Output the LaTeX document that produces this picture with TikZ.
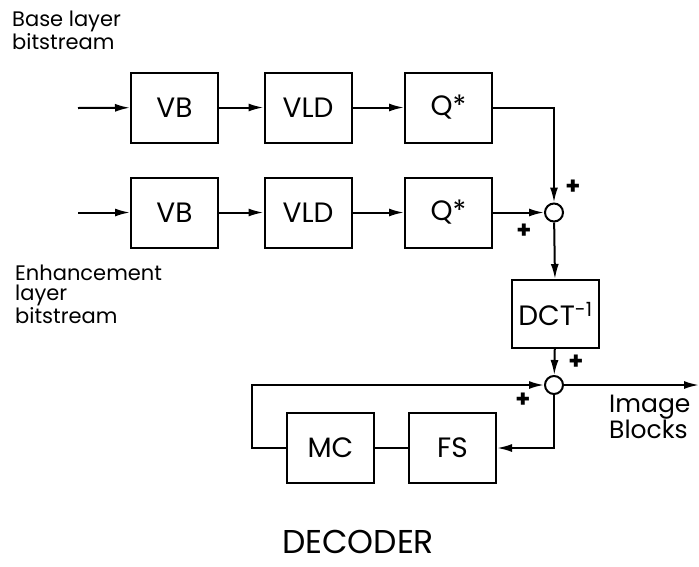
\documentclass[tikz,border=0pt]{standalone}
\usepackage{fontspec}
\setmainfont{Poppins}
\usetikzlibrary{arrows.meta,positioning}

\begin{document}
\begin{tikzpicture}[x=1pt,y=-1pt,
    blk/.style={draw, line width=2pt, minimum width=87pt, minimum height=70pt,
                inner sep=0pt, font=\fontsize{28}{30}\selectfont},
    sumnode/.style={draw, circle, line width=2pt, minimum size=18pt, inner sep=0pt},
    conn/.style={line width=2pt, -{Latex[length=15pt,width=8pt]}},
    wire/.style={line width=2pt},
    lbl/.style={anchor=north west, inner sep=0pt, align=left,
                font=\fontsize{21}{20}\selectfont},
    sgn/.style={inner sep=0pt, font=\bfseries\fontsize{24}{24}\selectfont}]
  \useasboundingbox (0,0) rectangle (699,566);

  % base layer
  \coordinate (inA) at (78,108);
  \node[blk] (vbA)  at (174.5,107.5) {VB};
  \node[blk] (vldA) at (308,107.5) {VLD};
  \node[blk] (qA)   at (448.5,107.5) {Q*};

  % enhancement layer
  \coordinate (inB) at (78,212.5);
  \node[blk] (vbB)  at (174.5,212.5) {VB};
  \node[blk] (vldB) at (308,212.5) {VLD};
  \node[blk] (qB)   at (448.5,212.5) {Q*};

  \node[sumnode] (sumA) at (554,212.5) {};
  \node[blk, minimum height=68pt] (dct) at (555.5,314) {DCT\textsuperscript{-1}};
  \node[sumnode] (sumB) at (554,385) {};

  \node[blk] (mc) at (330.5,448) {MC};
  \node[blk] (fs) at (452.5,448) {FS};
  \coordinate (loop) at (252,448);
  \coordinate (out) at (699,385);

  \draw[conn] (inA) -- (vbA);
  \draw[conn] (vbA) -- (vldA);
  \draw[conn] (vldA) -- (qA);
  \draw[conn] (qA.east) -| (sumA);

  \draw[conn] (inB) -- (vbB);
  \draw[conn] (vbB) -- (vldB);
  \draw[conn] (vldB) -- (qB);
  \draw[conn] (qB) -- (sumA);

  \draw[conn] (sumA) -- (dct);
  \draw[conn] (dct) -- (sumB);
  \draw[conn] (sumB) -- (out);
  \draw[conn] (sumB) |- (fs);
  \draw[wire] (fs) -- (mc);
  \draw[conn] (mc) -- (loop) |- (sumB);

  \node[sgn] (pA1) at (573,187) {+};
  \node[sgn] (pA2) at (524,231) {+};
  \node[sgn] (pB1) at (576,362) {+};
  \node[sgn] (pB2) at (523,400) {+};

  \node[lbl] (base) at (12,11) {Base layer\\bitstream};
  \node[lbl] (enh) at (15,265) {Enhancement\\layer\\bitstream};
  \node[lbl, font=\fontsize{25}{25}\selectfont] (img) at (609,395) {Image\\Blocks};
  \node[anchor=base, inner sep=0pt, font=\fontsize{33}{34}\selectfont] (title) at (358,553) {DECODER};
\end{tikzpicture}
\end{document}
